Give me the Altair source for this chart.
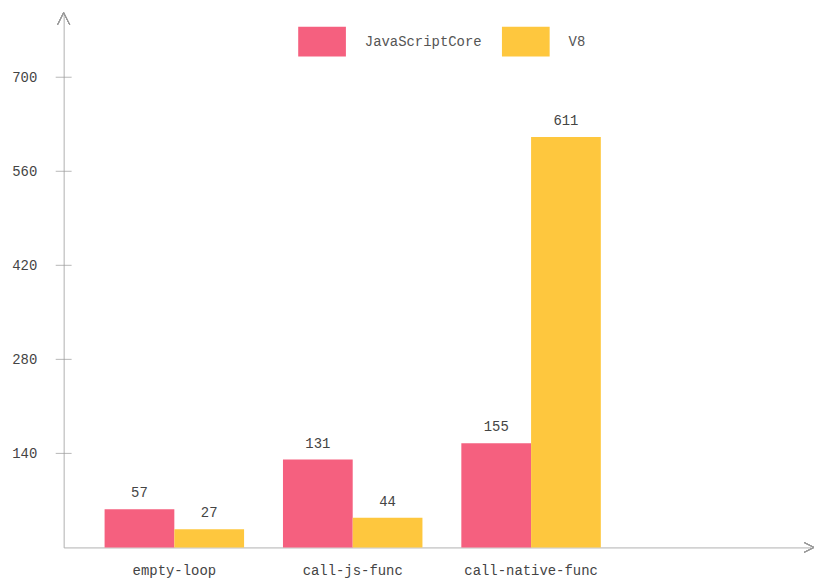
import altair as alt
import pandas as pd

categories = ["empty-loop", "call-js-func", "call-native-func"]
series = ["JavaScriptCore", "V8"]
jsc_values = [57, 131, 155]
v8_values = [27, 44, 611]
tick_values = [140, 280, 420, 560, 700]
colors = ["#f5607f", "#fec73e"]

rows = []
for i, c in enumerate(categories):
    rows.append({"cat": c, "engine": series[0], "value": jsc_values[i]})
    rows.append({"cat": c, "engine": series[1], "value": v8_values[i]})
df = pd.DataFrame(rows)
ticks_df = pd.DataFrame({"t": tick_values})

FONT = "Liberation Mono"
W, H = 752, 538
YMAX = 796

xscale = alt.Scale(domain=categories, paddingInner=0.218, paddingOuter=0.704, align=0.163)
yscale = alt.Scale(domain=[0, YMAX], nice=False)

base = alt.Chart(df).encode(
    x=alt.X("cat:N", scale=xscale, sort=categories,
            axis=alt.Axis(title=None, ticks=False, labelAngle=0, labelPadding=16,
                          labelFont=FONT, labelFontSize=14, labelColor="#444",
                          domainColor="#b0b0b0", domainWidth=1)),
    xOffset=alt.XOffset("engine:N", sort=series, scale=alt.Scale(paddingInner=0, paddingOuter=0)),
    y=alt.Y("value:Q", scale=yscale,
            axis=alt.Axis(title=None, values=tick_values, ticks=False, grid=False,
                          labelPadding=27, labelFont=FONT, labelFontSize=14,
                          labelColor="#444", domainColor="#b0b0b0", domainWidth=1)),
)

bars = base.mark_bar().encode(
    color=alt.Color("engine:N", sort=series,
                    scale=alt.Scale(domain=series, range=colors),
                    legend=alt.Legend(title=None, orient="none", direction="horizontal",
                                      legendX=236, legendY=5, padding=0,
                                      symbolType="M-1,-0.625H1V0.625H-1Z",
                                      symbolSize=2304, symbolStrokeWidth=0,
                                      labelFont=FONT, labelFontSize=14, labelColor="#555",
                                      labelOffset=19, columnPadding=20))
)

labels = base.mark_text(baseline="bottom", dy=-9, font=FONT, fontSize=14, color="#444").encode(
    text=alt.Text("value:Q")
)

ytick = alt.Chart(ticks_df).mark_tick(color="#999", size=16, thickness=1, orient="horizontal").encode(
    y=alt.Y("t:Q", scale=yscale),
    x=alt.value(0),
)

top_arrow = alt.Chart(ticks_df).mark_point(
    shape="M-1,1L0,-1L1,1", size=150, filled=False, color="#999", strokeWidth=1, opacity=1
).encode(x=alt.value(0), y=alt.value(6))

right_arrow = alt.Chart(ticks_df).mark_point(
    shape="M-1,-1L1,0L-1,1", size=100, filled=False, color="#999", strokeWidth=1, opacity=1
).encode(x=alt.value(W - 2), y=alt.value(H))

chart = alt.layer(bars, labels, ytick, top_arrow, right_arrow).properties(
    width=W, height=H,
    padding={"left": 3, "top": 0, "right": 0, "bottom": 0},
).configure_view(stroke=None).configure_axis(labelFont=FONT)

chart.save("out.html", embed_options={"renderer": "svg", "actions": False})
